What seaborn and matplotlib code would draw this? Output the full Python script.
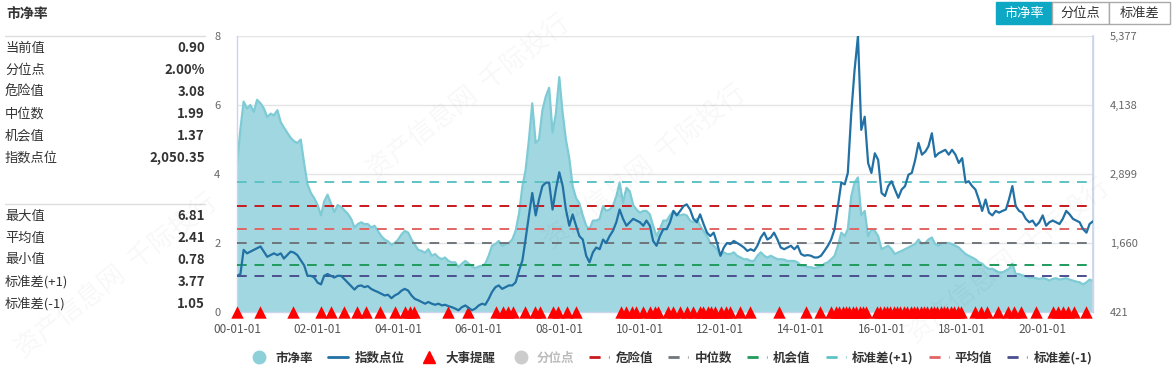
import matplotlib
matplotlib.use("Agg")
import matplotlib.pyplot as plt
import matplotlib.dates as mdates
from matplotlib.lines import Line2D
from matplotlib.patches import Rectangle
import pandas as pd
import seaborn as sns

# monthly series, first point 2000-01
start_month = "2000-01-01"
pb_values = [
    4.3, 5.3, 6.1, 5.9, 6.0, 5.8, 6.15, 6.05, 5.9, 5.65, 5.75, 5.7,
    5.85, 5.5, 5.35, 5.2, 5.05, 4.95, 4.9, 5.0, 4.3, 3.7, 3.45, 3.3,
    3.1, 2.8, 3.2, 3.4, 3.15, 2.9, 3.1, 3.05, 2.95, 2.85, 2.7, 2.45,
    2.55, 2.6, 2.55, 2.55, 2.45, 2.5, 2.35, 2.2, 2.1, 2.05, 1.95, 2.0,
    2.1, 2.25, 2.35, 2.3, 2.1, 1.95, 1.8, 1.77, 1.72, 1.82, 1.63, 1.68,
    1.58, 1.53, 1.58, 1.48, 1.44, 1.44, 1.3, 1.4, 1.48, 1.4, 1.32, 1.27,
    1.32, 1.34, 1.4, 1.63, 1.92, 1.97, 2.06, 1.92, 1.97, 2.0, 2.1, 2.35,
    2.85, 3.65, 4.1, 5.0, 6.05, 4.9, 5.0, 5.85, 6.25, 6.5, 5.2, 5.75,
    6.81, 5.75, 5.0, 4.45, 3.65, 3.3, 3.15, 2.8, 2.5, 2.4, 2.65, 2.65,
    2.7, 3.07, 2.93, 2.97, 3.07, 3.35, 3.75, 3.17, 3.6, 3.5, 3.1, 2.97,
    2.88, 2.93, 2.93, 2.83, 2.5, 2.2, 2.4, 2.65, 2.65, 2.8, 2.93, 2.83,
    2.8, 2.83, 2.8, 2.65, 2.6, 2.7, 2.5, 2.35, 2.2, 2.0, 1.92, 1.82,
    1.63, 1.73, 1.68, 1.68, 1.73, 1.63, 1.58, 1.53, 1.53, 1.48, 1.48, 1.63,
    1.73, 1.63, 1.58, 1.63, 1.58, 1.53, 1.53, 1.52, 1.48, 1.48, 1.48, 1.44,
    1.34, 1.34, 1.3, 1.3, 1.27, 1.3, 1.32, 1.4, 1.44, 1.53, 1.63, 1.92,
    2.3, 2.2, 2.4, 3.35, 3.75, 3.9, 2.8, 2.93, 2.2, 2.4, 2.35, 2.2,
    1.82, 1.87, 1.92, 1.82, 1.68, 1.73, 1.77, 1.82, 1.87, 1.92, 1.97, 2.1,
    1.97, 2.0, 2.1, 2.16, 1.97, 1.92, 2.0, 2.0, 2.0, 1.97, 1.92, 1.87,
    1.77, 1.68, 1.63, 1.58, 1.53, 1.44, 1.4, 1.3, 1.25, 1.25, 1.2, 1.15,
    1.15, 1.2, 1.25, 1.4, 1.1, 1.1, 1.06, 1.04, 1.0, 1.0, 0.98, 0.96,
    0.98, 0.96, 0.91, 0.96, 0.98, 0.94, 0.96, 0.98, 0.94, 0.91, 0.88, 0.86,
    0.8, 0.86, 0.94, 0.90,
]
index_points = [
    1071, 1102, 1536, 1474, 1505, 1536, 1567, 1598, 1505, 1412, 1443, 1474,
    1443, 1474, 1381, 1443, 1505, 1487, 1443, 1350, 1257, 1071, 1071, 1040,
    948, 917, 1071, 1102, 1071, 1040, 1071, 1071, 1010, 948, 886, 824,
    886, 898, 867, 886, 836, 805, 780, 749, 718, 731, 669, 718,
    749, 805, 836, 805, 718, 656, 632, 601, 570, 601, 570, 551,
    570, 539, 551, 526, 508, 483, 452, 508, 539, 495, 452, 483,
    539, 570, 551, 656, 780, 867, 898, 836, 867, 898, 898, 954,
    1164, 1350, 1722, 2156, 2558, 2156, 2441, 2682, 2744, 2744, 2261, 2620,
    2930, 2682, 2261, 1970, 2174, 1970, 1784, 1722, 1431, 1313, 1493, 1579,
    1548, 1722, 1660, 1784, 1877, 2032, 2261, 2094, 1970, 2032, 2094, 2063,
    2032, 1970, 2063, 1970, 1697, 1610, 1784, 1908, 1908, 2032, 2236, 2156,
    2236, 2323, 2354, 2261, 2094, 2032, 2174, 2001, 1846, 1784, 1846, 1660,
    1431, 1579, 1660, 1641, 1697, 1660, 1623, 1579, 1518, 1548, 1518, 1610,
    1759, 1846, 1722, 1759, 1846, 1722, 1579, 1548, 1579, 1610, 1548, 1610,
    1462, 1431, 1443, 1431, 1400, 1400, 1431, 1518, 1610, 1722, 1908, 2323,
    2744, 2713, 2918, 3983, 4758, 5377, 3692, 3927, 3097, 2918, 3271, 3153,
    2558, 2503, 2682, 2769, 2620, 2472, 2620, 2682, 2887, 2918, 3153, 3457,
    3246, 3302, 3395, 3630, 3209, 3271, 3302, 3333, 3246, 3333, 3246, 3097,
    3184, 2744, 2769, 2682, 2620, 2441, 2236, 2441, 2205, 2156, 2236, 2205,
    2236, 2261, 2441, 2682, 2323, 2236, 2205, 2094, 2032, 2063, 1970, 2032,
    2156, 1970, 2032, 2063, 2032, 2001, 2094, 2236, 2174, 2094, 2063, 2032,
    1908, 1846, 2001, 2050,
]
event_dates = [
    "2000-01-01", "2000-07-28", "2001-05-25", "2002-01-30", "2002-04-30",
    "2002-08-28", "2002-12-20", "2003-03-20", "2003-07-25", "2003-12-01",
    "2004-03-01", "2004-04-15", "2004-05-22", "2005-03-28", "2005-09-27",
    "2006-06-10", "2006-08-10", "2006-09-25", "2006-11-10", "2007-02-25",
    "2007-05-25", "2007-07-08", "2007-11-05", "2007-12-20", "2008-03-08",
    "2008-05-30", "2009-07-18", "2009-09-01", "2009-10-17", "2009-12-01",
    "2010-02-01", "2010-04-01", "2010-05-15", "2010-06-15", "2010-09-13",
    "2010-10-30", "2010-12-28", "2011-02-28", "2011-04-28", "2011-06-28",
    "2011-07-26", "2011-09-12", "2011-10-10", "2011-11-10", "2012-01-10",
    "2012-02-25", "2012-03-25", "2012-06-25", "2012-09-25", "2013-06-17",
    "2014-02-14", "2014-06-20", "2014-10-04", "2014-11-15", "2014-12-15",
    "2015-01-15", "2015-02-15", "2015-03-15", "2015-04-15", "2015-05-15",
    "2015-06-15", "2015-07-15", "2015-08-12", "2015-11-25", "2015-12-20",
    "2016-01-20", "2016-02-20", "2016-03-20", "2016-04-20", "2016-05-20",
    "2016-06-20", "2016-07-20", "2016-08-20", "2016-09-20", "2016-10-20",
    "2016-11-20", "2016-12-20", "2017-01-20", "2017-02-20", "2017-03-20",
    "2017-04-20", "2017-05-20", "2017-06-20", "2017-07-20", "2017-08-20",
    "2017-09-20", "2017-10-20", "2017-11-20", "2017-12-20", "2018-05-01",
    "2018-06-25", "2018-08-10", "2018-11-20", "2019-02-20", "2019-04-20",
    "2019-06-20", "2019-11-01", "2020-04-05", "2020-05-20", "2020-07-01",
    "2020-08-15", "2020-10-15", "2021-01-30",
]
ref_names = ["危险值", "中位数", "机会值", "标准差(+1)", "平均值", "标准差(-1)"]
ref_values = [3.08, 1.99, 1.37, 3.77, 2.41, 1.05]
ref_colors = ["#c8191e", "#6f767c", "#1f9b5c", "#5ec3c6", "#e06565", "#4b4f8e"]
top_labels = ["当前值", "分位点", "危险值", "中位数", "机会值", "指数点位"]
top_values = ["0.90", "2.00%", "3.08", "1.99", "1.37", "2,050.35"]
bottom_labels = ["最大值", "平均值", "最小值", "标准差(+1)", "标准差(-1)"]
bottom_values = ["6.81", "2.41", "0.78", "3.77", "1.05"]
left_ticks = [0, 2, 4, 6, 8]
right_ticks = [421, 1660, 2899, 4138, 5377]
xtick_dates = ["2000-01-01", "2002-01-01", "2004-01-01", "2006-01-01", "2008-01-01",
               "2010-01-01", "2012-01-01", "2014-01-01", "2016-01-01", "2018-01-01",
               "2020-01-01"]
buttons = ["市净率", "分位点", "标准差"]

sns.set_theme(style="white")
plt.rcParams["font.family"] = ["Noto Sans CJK SC", "DejaVu Sans"]

AREA = "#a0d7e0"
AREA_EDGE = "#7ecbd6"
LINE = "#2271a5"
AXC = "#ccd6eb"
TXT = "#333333"

df = pd.DataFrame({
    "date": pd.date_range(start_month, periods=len(pb_values), freq="MS"),
    "pb": pb_values,
    "index": index_points,
})
ev = pd.DataFrame({"date": pd.to_datetime(event_dates)})
ev["y"] = 0.0

fig = plt.figure(figsize=(11.73, 3.73), dpi=100)
ax = fig.add_axes([237 / 1173, 61 / 373, 856 / 1173, 276 / 373])

ax.fill_between(df["date"], df["pb"], 0, color=AREA, lw=0, zorder=1)
sns.lineplot(data=df, x="date", y="pb", ax=ax, color=AREA_EDGE, lw=1.6, zorder=2)

for val, col in zip(ref_values, ref_colors):
    ax.axhline(val, color=col, lw=1.4, dashes=(5, 4), zorder=3)

sns.scatterplot(data=ev, x="date", y="y", ax=ax, marker="^", s=80, color="#ff0000",
                linewidth=0, clip_on=False, zorder=6)

ax.set_ylim(0, 8)
ax.set_yticks(left_ticks)
ax.set_xlim(df["date"].iloc[0], df["date"].iloc[-1])
ax.set_xticks(pd.to_datetime(xtick_dates))
ax.xaxis.set_major_formatter(mdates.DateFormatter("%y-%m-%d"))
ax.grid(axis="y", color="#e4e4e4", lw=1, zorder=0)
ax.grid(axis="x", visible=False)
ax.set_xlabel("")
ax.set_ylabel("")
ax.tick_params(axis="y", length=0, pad=12, labelsize=8, labelcolor="#666666")
ax.tick_params(axis="x", length=5, width=1, color=AXC, pad=3, labelsize=8.5,
               labelcolor="#555555")
ax.spines["top"].set_visible(False)
for s in ["left", "right", "bottom"]:
    ax.spines[s].set_color(AXC)
    ax.spines[s].set_linewidth(1)

ax2 = ax.twinx()
sns.lineplot(data=df, x="date", y="index", ax=ax2, color=LINE, lw=1.6, zorder=4)
ax2.set_ylim(right_ticks[0], right_ticks[-1])
ax2.set_yticks(right_ticks)
ax2.set_yticklabels([f"{v:,}" for v in right_ticks])
ax2.tick_params(axis="y", length=0, pad=12, labelsize=8, labelcolor="#666666")
ax2.set_ylabel("")
ax2.grid(False)
for s in ["top", "left", "bottom"]:
    ax2.spines[s].set_visible(False)
ax2.spines["right"].set_color(AXC)

# legend
handles = [
    Line2D([], [], ls="", marker="o", ms=9, color="#8ed0da"),
    Line2D([], [], color=LINE, lw=2),
    Line2D([], [], ls="", marker="^", ms=9, color="#ff0000"),
    Line2D([], [], ls="", marker="o", ms=9, color="#cccccc"),
]
labels = ["市净率", "指数点位", "大事提醒", "分位点"]
for name, col in zip(ref_names, ref_colors):
    handles.append(Line2D([], [], color=col, lw=2, dashes=(4, 3, 1.2, 3)))
    labels.append(name)
leg = fig.legend(handles, labels, loc="center", bbox_to_anchor=(0.572, 0.04), ncol=10,
                 frameon=False, fontsize=9, handlelength=1.6, handletextpad=0.5,
                 columnspacing=1.2)
for i, t in enumerate(leg.get_texts()):
    t.set_color("#bbbbbb" if i == 3 else TXT)
    t.set_fontweight("bold")

# side panel
W, H = 1173, 373
fig.text(6 / W, 1 - 14 / H, "市净率", fontsize=10, fontweight="bold", color=TXT, va="center")
for yy in [36, 204]:
    fig.add_artist(Line2D([5 / W, 205 / W], [1 - yy / H, 1 - yy / H], color="#dddddd", lw=1))
for i, (lab, val) in enumerate(zip(top_labels, top_values)):
    y = 1 - (48 + 22 * i) / H
    fig.text(5 / W, y, lab, fontsize=9.5, color=TXT, va="center")
    fig.text(205 / W, y, val, fontsize=9.5, color=TXT, va="center", ha="right",
             fontweight="bold")
for i, (lab, val) in enumerate(zip(bottom_labels, bottom_values)):
    y = 1 - (216 + 22 * i) / H
    fig.text(5 / W, y, lab, fontsize=9.5, color=TXT, va="center")
    fig.text(205 / W, y, val, fontsize=9.5, color=TXT, va="center", ha="right",
             fontweight="bold")

# buttons top right
edges = [996, 1052, 1109, 1170]
for i, name in enumerate(buttons):
    x0, x1 = edges[i], edges[i + 1]
    active = i == 0
    fig.add_artist(Rectangle((x0 / W, 1 - 24 / H), (x1 - x0) / W, 22 / H,
                             facecolor="#0ea8c5" if active else "white",
                             edgecolor="#0ea8c5" if active else "#aaaaaa", lw=1))
    fig.text((x0 + x1) / 2 / W, 1 - 13 / H, name, fontsize=9.5, ha="center", va="center",
             color="white" if active else TXT)

# faint watermark, kept inside the canvas
for (wx, wy) in [(0.10, 0.26), (0.55, 0.55), (0.86, 0.30), (0.40, 0.74)]:
    fig.text(wx, wy, "资产信息网  千际投行", fontsize=19, rotation=38, color="#000000",
             alpha=0.03, ha="center", va="center")

fig.savefig("out.png", dpi=100)
